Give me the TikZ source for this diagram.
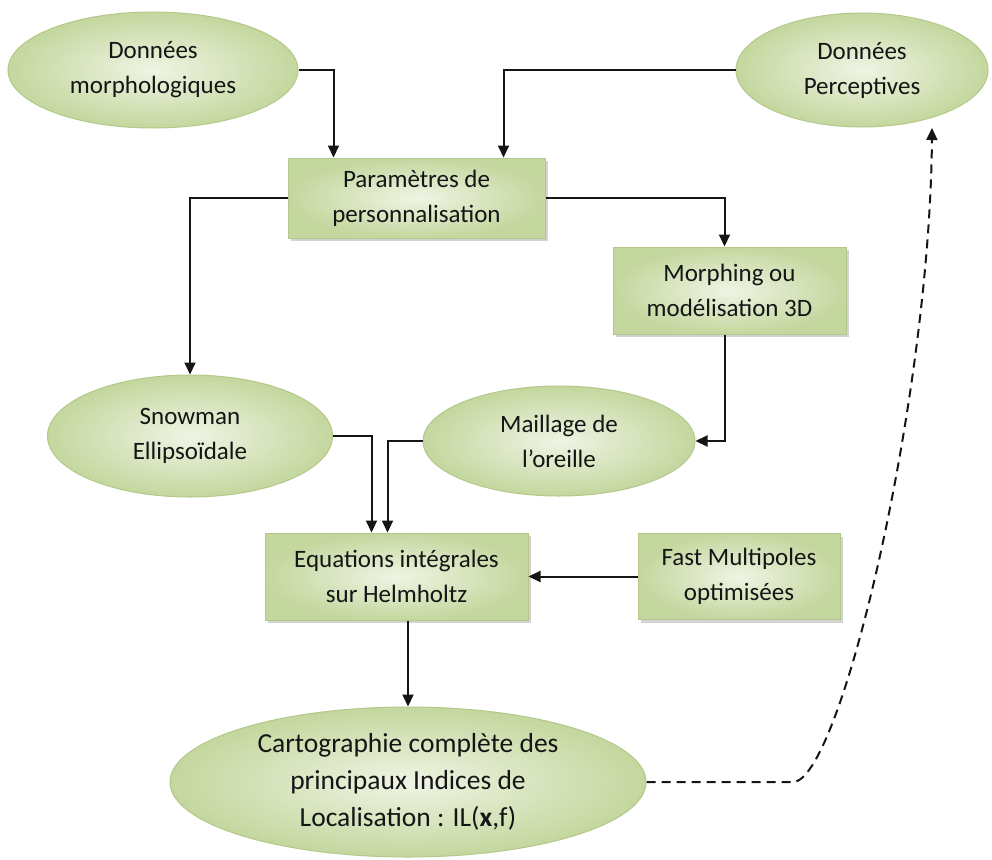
\documentclass[tikz,border=0pt]{standalone}
\usepackage{fontspec}
\setmainfont{Carlito}
\usetikzlibrary{positioning, shapes.geometric, calc, arrows.meta, shadows}
\definecolor{leaf}{HTML}{C4D79E}
\definecolor{leaflight}{HTML}{EFF4E4}
\definecolor{leafline}{HTML}{B3C88A}
\definecolor{ink}{HTML}{151515}

\begin{document}
\begin{tikzpicture}[
    x=1pt, y=-1pt,
    font=\fontsize{25}{35}\selectfont,
    text=ink,
    % Styles
    ellnode/.style={
        ellipse,
        draw=leafline,
        line width=1pt,
        inner color=leaflight,
        outer color=leaf,
        inner sep=0pt,
        align=center
    },
    boxnode/.style={
        rectangle,
        draw=leafline,
        line width=1pt,
        inner color=leaflight,
        outer color=leaf,
        inner sep=0pt,
        align=center,
        drop shadow={opacity=0.35, shadow xshift=3pt, shadow yshift=-3pt}
    },
    arrow/.style={
        -{Triangle[length=12pt, width=11pt]},
        draw=ink,
        line width=2pt
    },
    dashedarrow/.style={
        -{Triangle[length=12pt, width=11pt]},
        draw=ink,
        dash pattern=on 9pt off 6pt,
        line width=2pt
    }
]
    \useasboundingbox (0,0) rectangle (992,859);

    % ================= SOURCES =================
    \node[ellnode, minimum width=290pt, minimum height=116pt] (morpho) at (153,70) {Données\\morphologiques};
    \node[ellnode, minimum width=252pt, minimum height=114pt] (percept) at (862,70) {Données\\Perceptives};

    % ================= PARAMETRES / MODELES =================
    \node[boxnode, minimum width=257pt, minimum height=80pt] (param) at (416.5,198) {Paramètres de\\personnalisation};
    \node[boxnode, minimum width=233pt, minimum height=87pt] (morphing) at (729.5,290.5) {Morphing ou\\modélisation 3D};
    \node[ellnode, minimum width=285pt, minimum height=122pt] (snowman) at (190,436) {Snowman\\Ellipsoïdale};
    \node[ellnode, minimum width=272pt, minimum height=110pt] (maillage) at (559,441) {Maillage de\\l’oreille};

    % ================= RESOLUTION =================
    \node[boxnode, minimum width=263pt, minimum height=87pt] (equations) at (396.5,576.5) {Equations intégrales\\sur Helmholtz};
    \node[boxnode, minimum width=202pt, minimum height=86pt] (fastmp) at (739,576.5) {Fast Multipoles\\optimisées};
    \node[ellnode, minimum width=476pt, minimum height=150pt, font=\fontsize{27.5}{37}\selectfont] (carto) at (408,782)
        {Cartographie complète des\\principaux Indices de\\Localisation : IL(\textbf{x},f)};

    % ================= CONNECTIONS / ARROWS =================
    \draw[arrow] (morpho.east) -| ([xshift=-83pt]param.north);
    \draw[arrow] (percept.west) -| ([xshift=87pt]param.north);
    \draw[arrow] (param.west) -| (snowman.north);
    \draw[arrow] (param.east) -| ([xshift=-5pt]morphing.north);
    \draw[arrow] ([xshift=-5pt]morphing.south) |- (maillage.east);
    \draw[arrow] (snowman.east) -| ([xshift=-25pt]equations.north);
    \draw[arrow] (maillage.west) -| ([xshift=-9pt]equations.north);
    \draw[arrow] (fastmp.west) -- (equations.east);
    \draw[arrow] (equations.south -| carto.north) -- (carto.north);

    % Feedback to perceptual data (dashed)
    \coordinate (bend) at (793,782);
    \coordinate (tip) at (932,128);
    \draw[dashedarrow] (carto.east) -- (bend) .. controls (840,782) and (930,400) .. (tip);

\end{tikzpicture}
\end{document}
